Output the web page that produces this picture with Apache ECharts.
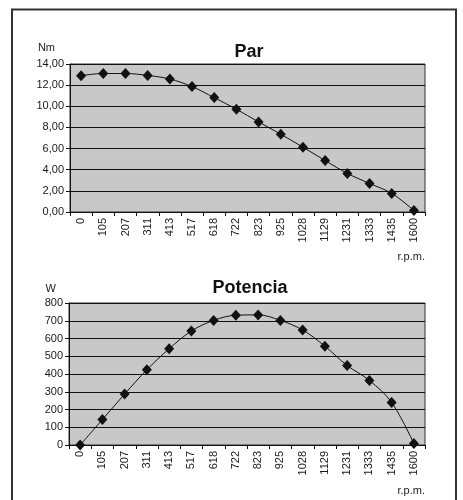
<!DOCTYPE html>
<html>
<head>
<meta charset="utf-8">
<script src="https://cdn.jsdelivr.net/npm/echarts@6/dist/echarts.min.js"></script>
<style>
html,body{margin:0;padding:0;background:#fff;}
#c{width:463px;height:500px;}
</style>
</head>
<body>
<div id="c"></div>
<script>
var rpm = ['0','105','207','311','413','517','618','722','823','925','1028','1129','1231','1333','1435','1600'];
var parValues = [12.9, 13.1, 13.1, 12.92, 12.58, 11.86, 10.82, 9.72, 8.52, 7.36, 6.13, 4.87, 3.65, 2.70, 1.76, 0.15];
var potenciaValues = [0, 143, 287, 424, 542, 642, 702, 731, 733, 702, 648, 557, 448, 364, 240, 8];
var parTitle = 'Par';
var potenciaTitle = 'Potencia';
var parUnit = 'Nm';
var potenciaUnit = 'W';
var xUnit = 'r.p.m.';

var FONT = '"Liberation Sans", Arial, sans-serif';
var chart = echarts.init(document.getElementById('c'), null, {renderer: 'canvas'});

function xAxisFor(idx) {
  return {
    type: 'category', gridIndex: idx, data: rpm, boundaryGap: true,
    axisLine: {lineStyle: {color: '#111', width: 1}},
    axisTick: {show: true, length: 4, lineStyle: {color: '#111'}},
    axisLabel: {rotate: 90, margin: 6, fontSize: 11, fontFamily: FONT, color: '#1a1a1a', interval: 0}
  };
}
function yAxisFor(idx, max, interval, fmt) {
  return {
    type: 'value', gridIndex: idx, min: 0, max: max, interval: interval,
    axisLine: {show: true, lineStyle: {color: '#111', width: 1}},
    axisTick: {show: true, length: 4, lineStyle: {color: '#111'}},
    axisLabel: {margin: 6, fontSize: 11, fontFamily: FONT, color: '#1a1a1a', formatter: fmt},
    splitLine: {show: true, lineStyle: {color: '#111', width: 1}}
  };
}
function seriesFor(idx, data) {
  return {
    type: 'line', xAxisIndex: idx, yAxisIndex: idx, data: data,
    smooth: 0.35, symbol: 'diamond', symbolSize: [10, 11],
    lineStyle: {color: '#111', width: 1},
    itemStyle: {color: '#111'},
    showSymbol: true, animation: false
  };
}

chart.setOption({
  animation: false,
  title: [
    {text: parTitle, left: 244, top: 38, textAlign: 'center',
     textStyle: {fontSize: 18, fontWeight: 'bold', fontFamily: FONT, color: '#111'}},
    {text: potenciaTitle, left: 245, top: 274, textAlign: 'center',
     textStyle: {fontSize: 18, fontWeight: 'bold', fontFamily: FONT, color: '#111'}}
  ],
  grid: [
    {left: 70, top: 64, width: 355, height: 148, show: true, backgroundColor: '#c8c8c9', borderColor: '#333', borderWidth: 1},
    {left: 69, top: 303, width: 356, height: 142, show: true, backgroundColor: '#c8c8c9', borderColor: '#333', borderWidth: 1}
  ],
  xAxis: [xAxisFor(0), xAxisFor(1)],
  yAxis: [
    yAxisFor(0, 14, 2, function (v) { return v.toFixed(2).replace('.', ','); }),
    yAxisFor(1, 800, 100, function (v) { return String(v); })
  ],
  series: [seriesFor(0, parValues), seriesFor(1, potenciaValues)],
  graphic: [
    {type: 'rect', silent: true, shape: {x: 12, y: 9.5, width: 444, height: 530},
     style: {fill: 'none', stroke: '#333', lineWidth: 2}},
    {type: 'text', x: 55, y: 48, style: {text: parUnit, align: 'right', verticalAlign: 'middle', fontSize: 11, fontFamily: FONT, fill: '#222'}},
    {type: 'text', x: 56, y: 289, style: {text: potenciaUnit, align: 'right', verticalAlign: 'middle', fontSize: 11, fontFamily: FONT, fill: '#222'}},
    {type: 'text', x: 425, y: 257, style: {text: xUnit, align: 'right', verticalAlign: 'middle', fontSize: 11, fontFamily: FONT, fill: '#222'}},
    {type: 'text', x: 425, y: 491, style: {text: xUnit, align: 'right', verticalAlign: 'middle', fontSize: 11, fontFamily: FONT, fill: '#222'}}
  ]
});
</script>
</body>
</html>
